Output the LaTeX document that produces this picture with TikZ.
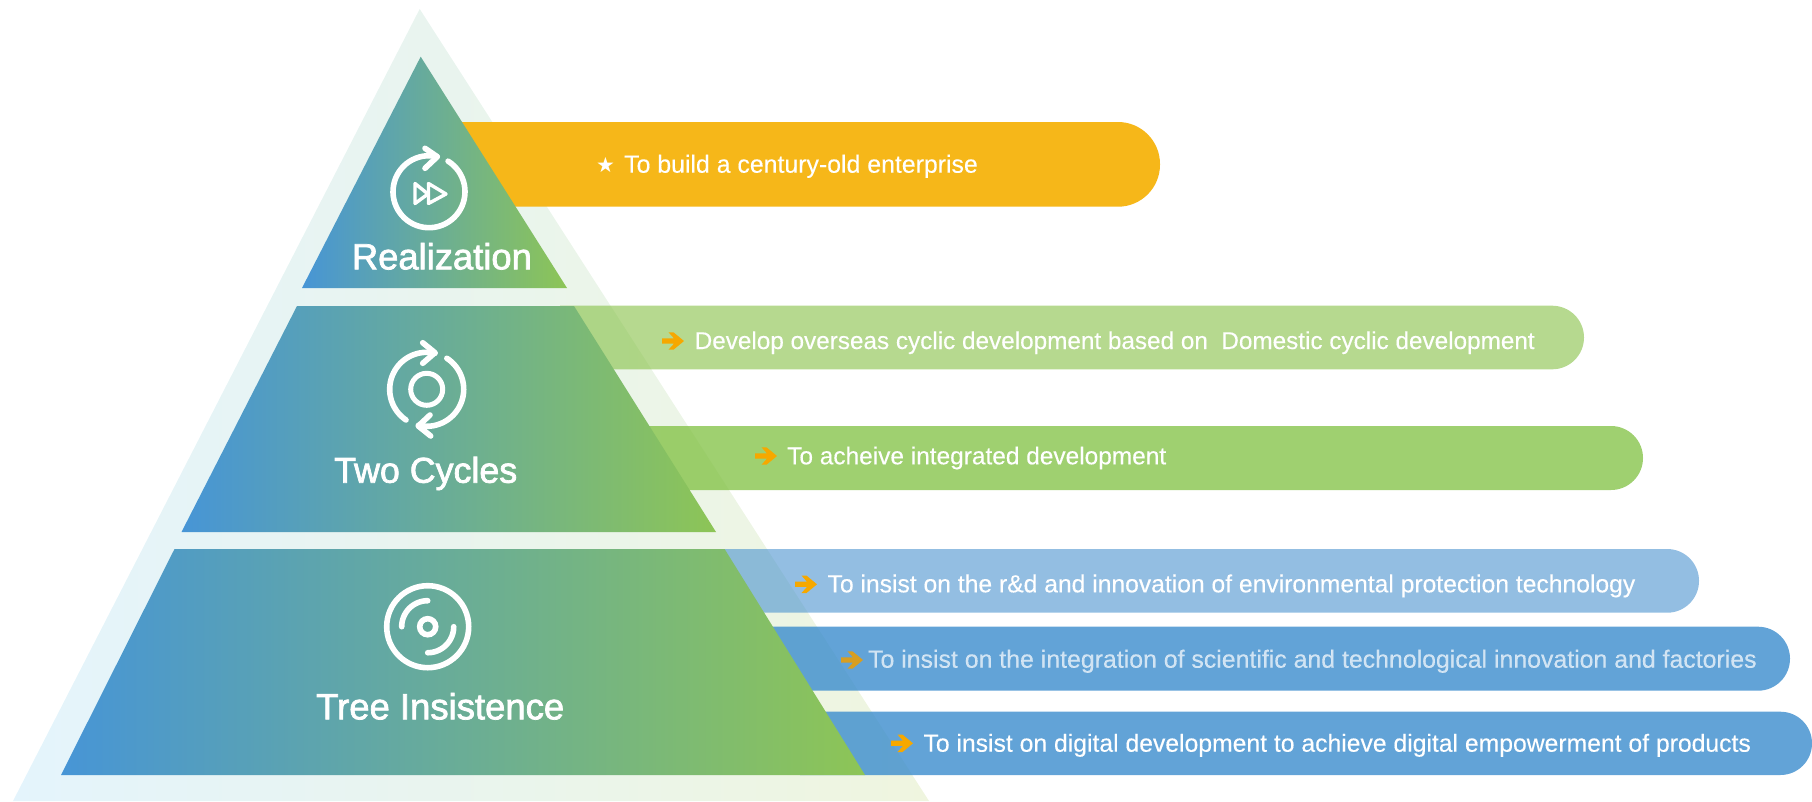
\documentclass[tikz,border=0pt]{standalone}
\usepackage{fontspec}
\setmainfont{Liberation Sans}
\newfontfamily\symfont{DejaVu Sans}
\newfontfamily\headfont[FakeBold=2]{Liberation Sans}
\newfontfamily\barfont[FakeBold=0.25]{Liberation Sans}
\definecolor{gradL}{HTML}{4795D6}
\definecolor{gradR}{HTML}{8DC556}
\definecolor{paleL}{HTML}{E4F4FC}
\definecolor{paleR}{HTML}{EFF5DF}
\definecolor{barYellow}{HTML}{F6B719}
\definecolor{barA}{HTML}{85C044}
\definecolor{barB}{HTML}{7FC040}
\definecolor{barC}{HTML}{4B93CF}
\definecolor{barD}{HTML}{3B8CCD}
\definecolor{arrowOrange}{HTML}{F6A800}
\tikzset{
  grad/.style={left color=gradL,right color=gradR,draw=none},
  bar/.style={draw=none},
  icon/.style={draw=white,line width=5.6pt,line cap=round,line join=round},
  thinicon/.style={draw=white,line width=3.4pt,line cap=round,line join=round},
  head/.style={anchor=base west,inner sep=0pt,text=white,font=\headfont},
  bartext/.style={anchor=base west,inner sep=0pt,text=white,font=\barfont},
  arrowmark/.style={fill=arrowOrange,draw=none}
}
\newcommand{\fitw}[2]{\resizebox{#1pt}{!}{#2}}
\newcommand{\roundbar}[6]{% style, x0, y1, xr, y2, radius
  \path[bar,#1] (#2,#3) [rounded corners=#6pt] -- (#4,#3) -- (#4,#5) [sharp corners] -- (#2,#5) -- cycle;}
\newcommand{\ringarc}[3]{% r a b, around the scope's origin
  \draw[icon] plot[domain=#2:#3,samples=60,smooth] ({#1*cos(\x)},{#1*sin(\x)});}
\newcommand{\markarrow}[3]{% x, y, colour
  \begin{scope}[shift={(#1,#2)}]
  \fill[arrowmark,#3] (0,-2.6) -- (12,-2.6) -- (6.5,-8.7) -- (11.5,-8.7) -- (22,0) -- (11.5,8.7) -- (6.5,8.7) -- (12,2.6) -- (0,2.6) -- cycle;
  \end{scope}}
\begin{document}
\begin{tikzpicture}[x=1pt,y=-1pt]
\useasboundingbox (0,0) rectangle (1812,801);
% outer pale triangle
\shade[left color=paleL,right color=paleR,draw=none] (419.7,9) -- (929,801) -- (13,801) -- cycle;
% bars
\roundbar{fill=barYellow}{440}{122}{1160}{206.7}{42}
\roundbar{fill=barA,fill opacity=.6}{560}{305.7}{1584}{369.3}{31.8}
\roundbar{fill=barB,fill opacity=.75}{640}{426}{1643}{490}{32}
\roundbar{fill=barC,fill opacity=.6}{700}{549}{1699}{612.7}{31.8}
\roundbar{fill=barD,fill opacity=.8}{740}{626.7}{1790}{690.7}{32}
\roundbar{fill=barD,fill opacity=.8}{800}{711.7}{1812}{775}{31.6}
% inner pyramid
\shade[grad] (420.7,56.7) -- (567,288) -- (302,288) -- cycle;
\shade[grad] (297,306) -- (574,306) -- (716,532) -- (181.5,532) -- cycle;
\shade[grad] (174.5,549) -- (724.6,549) -- (865,775) -- (61,775) -- cycle;
% icon 1
\begin{scope}[shift={(429,191.7)}]
  \ringarc{36}{-58}{283}
\end{scope}
\draw[icon] (425,148.3) -- (437.3,156.7) -- (425,168.3);
\draw[thinicon] (415,183.5) -- (428,194) -- (415,203.5) -- cycle;
\draw[thinicon] (428.5,183.5) -- (446,194) -- (428.5,203.5) -- cycle;
% icon 2
\begin{scope}[shift={(426.7,389.3)}]
  \ringarc{37}{124}{283}
  \ringarc{37}{-57}{103}
  \draw[draw=white,line width=5pt] (0,0) circle[radius=16pt];
\end{scope}
\draw[icon] (422.7,342.7) -- (435,352.7) -- (422.7,363.3);
\draw[icon] (430.7,436) -- (418.3,426) -- (430,415);
% icon 3
\begin{scope}[shift={(427.7,626.7)}]
  \draw[draw=white,line width=5.6pt] (0,0) circle[radius=41pt];
  \draw[draw=white,line width=5.6pt] (0,0) circle[radius=8pt];
  \ringarc{26}{180}{270}
  \ringarc{26}{0}{90}
\end{scope}
% labels
\node[head] (t1) at (351.7,269.3) {\fitw{180}{Realization}};
\node[head] (t2) at (334,482.7) {\fitw{183}{Two Cycles}};
\node[head] (t3) at (316,719.3) {\fitw{248}{Tree Insistence}};
% bar text
\node[bartext,font=\symfont\fontsize{21}{22}\selectfont] (s0) at (596,172.5) {★};
\node[bartext] (b1) at (624,172.7) {\fitw{353.6}{To build a century-old enterprise}};
\node[bartext] (b2) at (694.5,349) {\fitw{840}{Develop overseas cyclic development based on\ \ Domestic cyclic development}};
\node[bartext] (b3) at (787,464.3) {\fitw{379}{To acheive integrated development}};
\node[bartext] (b4) at (827.4,592.3) {\fitw{807.6}{To insist on the r\&d and innovation of environmental protection technology}};
\node[bartext,text opacity=.7] (b5) at (867.9,667.7) {\fitw{888.6}{To insist on the integration of scientific and technological innovation and factories}};
\node[bartext] (b6) at (923.3,751.7) {\fitw{827.4}{To insist on digital development to achieve digital empowerment of products}};
% arrows
\markarrow{662}{341}{}
\markarrow{755}{456}{}
\markarrow{795}{584.3}{}
\markarrow{841}{660}{fill=arrowOrange!75!gray}
\markarrow{891}{743.3}{}
\end{tikzpicture}
\end{document}
